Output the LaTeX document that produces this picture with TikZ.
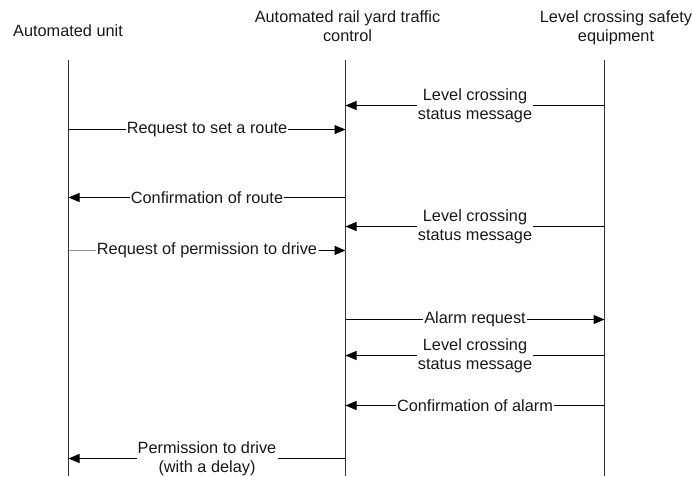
\documentclass[tikz,border=0pt]{standalone}
\usepackage{fontspec}
\setmainfont{Liberation Sans}
\usetikzlibrary{arrows.meta}

\begin{document}
\begin{tikzpicture}[x=1pt,y=-1pt,
  every node/.style={font=\fontsize{16.3}{19.3}\selectfont, text=black!90, inner sep=0pt},
  head/.style={align=center, anchor=north},
  lifeline/.style={line width=1pt, draw=black!80},
  msg/.style={line width=1pt, draw=black, -{Triangle[length=11pt,width=9pt]}},
  lbl/.style={midway, fill=white, align=center, inner xsep=1.2pt, inner ysep=0pt}
]
\useasboundingbox (0,0) rectangle (692,476);

% column headers
\node[anchor=base] (hU) at (68,36.5) {Automated unit};
\node[head] (hC) at (347.5,10.5) {Automated rail yard traffic\\control};
\node[head] (hL) at (616,10.5) {Level crossing safety\\equipment};

% lifelines
\coordinate (uT) at (68.5,60);  \coordinate (uB) at (68.5,476);
\coordinate (cT) at (345.5,60); \coordinate (cB) at (345.5,476);
\coordinate (lT) at (604.5,60); \coordinate (lB) at (604.5,476);
\draw[lifeline] (uT) -- (uB);
\draw[lifeline] (cT) -- (cB);
\draw[lifeline] (lT) -- (lB);

% messages
\draw[msg] (lT |- 0,105.5) -- node[lbl] (m1) {Level crossing\\status message} (cT |- 0,105.5);
\draw[msg] (uT |- 0,129.5) -- node[lbl] (m2) {Request to set a route} (cT |- 0,129.5);
\draw[msg] (cT |- 0,197.5) -- node[lbl] (m3) {Confirmation of route} (uT |- 0,197.5);
\draw[msg] (lT |- 0,226.5) -- node[lbl] (m4) {Level crossing\\status message} (cT |- 0,226.5);
\draw[line width=1pt, draw=black!40] (uT |- 0,250.5) -- node[lbl] (m5) {Request of permission to drive} (cT |- 0,250.5);
\draw[msg] (m5.east) -- (cT |- 0,250.5);
\draw[msg] (cT |- 0,319.5) -- node[lbl] (m6) {Alarm request} (lT |- 0,319.5);
\draw[msg] (lT |- 0,355.5) -- node[lbl] (m7) {Level crossing\\status message} (cT |- 0,355.5);
\draw[msg] (lT |- 0,405.5) -- node[lbl] (m8) {Confirmation of alarm} (cT |- 0,405.5);
\draw[msg] (cT |- 0,458.5) -- node[lbl] (m9) {Permission to drive\\(with a delay)} (uT |- 0,458.5);
\end{tikzpicture}
\end{document}
